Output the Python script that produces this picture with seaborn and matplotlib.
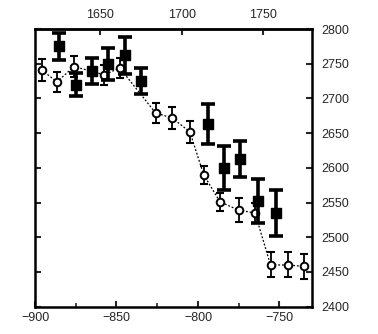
import numpy as np
import pandas as pd
import matplotlib
matplotlib.use("Agg")
import matplotlib.pyplot as plt
import seaborn as sns

# Open-circle series (connected by a dashed line)
circle_x = [-896, -886.5, -876, -857.5, -848, -826, -816, -805, -796.5, -786.5, -775, -765, -755.5, -745, -735]
circle_y = [2741, 2724, 2746, 2734, 2744, 2679, 2672, 2652, 2590, 2551, 2539, 2535, 2460, 2460, 2458]
circle_err = [16, 14, 15, 14, 15, 15, 16, 16, 13, 13, 17, 15, 18, 18, 18]

# Filled-square series
square_x = [-885, -875, -865, -855, -845, -835, -794, -784, -774, -763, -752]
square_y = [2775, 2720, 2740, 2750, 2762, 2725, 2663, 2600, 2613, 2552, 2535]
square_err = [19, 17, 19, 23, 27, 19, 29, 32, 26, 32, 33]

bottom_ticks = [-900, -850, -800, -750]
top_ticks = [1650, 1700, 1750]
right_ticks = [2400, 2450, 2500, 2550, 2600, 2650, 2700, 2750, 2800]
YEAR_OFFSET = 2510

circles = pd.DataFrame({"x": circle_x, "y": circle_y, "err": circle_err})
squares = pd.DataFrame({"x": square_x, "y": square_y, "err": square_err})

sns.set_style("ticks")
plt.rcParams["font.family"] = ["Liberation Sans", "DejaVu Sans"]

fig = plt.figure(figsize=(3.78, 3.34), dpi=100)
ax = fig.add_axes([0.0926, 0.082, 0.733, 0.831])

# dashed connecting line for the open circles
sns.lineplot(data=circles, x="x", y="y", ax=ax, color="black", lw=0.9,
             linestyle=(0, (1.5, 1.5)), sort=False, zorder=2)

# error bars
ax.errorbar(circles["x"], circles["y"], yerr=circles["err"], fmt="none",
            ecolor="black", elinewidth=1.3, capsize=3, capthick=1.5, zorder=3)
ax.errorbar(squares["x"], squares["y"], yerr=squares["err"], fmt="none",
            ecolor="black", elinewidth=2.6, capsize=5, capthick=2.6, zorder=5)

# markers
sns.scatterplot(data=circles, x="x", y="y", ax=ax, marker="o", s=30,
                facecolor="white", edgecolor="black", linewidth=1.4, zorder=4)
sns.scatterplot(data=squares, x="x", y="y", ax=ax, marker="s", s=42,
                color="black", edgecolor="black", linewidth=1, zorder=6)

ax.set_xlim(-900, -730)
ax.set_ylim(2400, 2800)
ax.set_xlabel("")
ax.set_ylabel("")

# bottom axis
ax.set_xticks(bottom_ticks)
ax.set_xticklabels([f"\u2212{abs(t)}" for t in bottom_ticks])
ax.set_xticks(np.arange(-900, -729, 25), minor=True)
ax.tick_params(axis="x", which="both", direction="in", top=False,
               labelsize=9, pad=4)
ax.tick_params(axis="x", which="major", length=4, width=1.5)
ax.tick_params(axis="x", which="minor", length=3, width=1.2)

# left axis: ticks only, labels on the right
ax.set_yticks(right_ticks)
ax.tick_params(axis="y", which="both", direction="in", left=True, right=True,
               labelleft=False, labelright=True, labelsize=9, pad=7,
               length=4, width=1.5)

# top axis in years
top = ax.secondary_xaxis("top", functions=(lambda v: v + YEAR_OFFSET,
                                           lambda v: v - YEAR_OFFSET))
top.set_xticks(top_ticks)
top.tick_params(direction="in", labelsize=9, pad=6, length=4, width=1.5)
top.spines["top"].set_linewidth(1.8)

for side in ["left", "right", "top", "bottom"]:
    ax.spines[side].set_visible(True)
    ax.spines[side].set_linewidth(1.8)
    ax.spines[side].set_color("black")

fig.savefig("out.png", dpi=100, facecolor="white")
